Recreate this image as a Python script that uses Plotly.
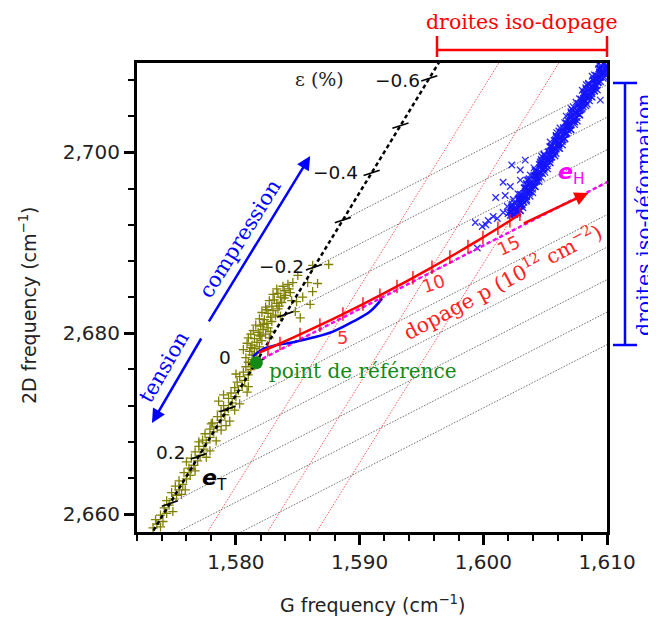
import plotly.graph_objects as go

# ---------------- data ----------------
x_tickvals = [1580, 1590, 1600, 1610]
x_ticktext = ["1,580", "1,590", "1,600", "1,610"]
y_tickvals = [2660, 2680, 2700]
y_ticktext = ["2,660", "2,680", "2,700"]
x_range = [1572.0, 1610.0]
y_range = [2658.04, 2709.87]

# reference point (unstrained, undoped)
ref_G = [1581.65]
ref_2D = [2676.85]

# strain axis e_T : ticks every 0.1 %
strain_eps = [-0.7, -0.6, -0.5, -0.4, -0.3, -0.2, -0.1, 0.0, 0.1, 0.2, 0.3, 0.4, 0.5]
strain_G = [1597.96, 1595.63, 1593.30, 1590.97, 1588.64, 1586.31, 1583.98,
            1581.65, 1579.32, 1576.99, 1574.66, 1572.33, 1570.00]
strain_2D = [2713.39, 2708.17, 2702.95, 2697.73, 2692.51, 2687.29, 2682.07,
             2676.85, 2671.63, 2666.41, 2661.19, 2655.97, 2650.75]
strain_tick_eps = [-0.6, -0.5, -0.4, -0.3, -0.2, -0.1, 0.0, 0.1, 0.2, 0.3]
iso_strain_eps = [-0.3, -0.2, -0.1, 0.0, 0.1, 0.2, 0.3, 0.4, 0.5]
strain_labels = ["\u22120.6", "\u22120.4", "\u22120.2", "0", "0.2"]
strain_label_G = [1593.04, 1588.02, 1583.65, 1579.12, 1574.67]
strain_label_2D = [2707.99, 2697.82, 2687.43, 2677.27, 2666.88]

# doping curve p (10^12 cm^-2)
doping_n = list(range(17))
doping_G = [1581.86, 1582.59, 1583.56, 1585.18, 1586.79, 1588.65, 1590.27, 1591.64, 1593.02,
            1594.31, 1595.85, 1597.30, 1598.76, 1599.97, 1601.18, 1602.15, 1602.96]
doping_2D = [2677.87, 2678.29, 2678.87, 2679.87, 2680.90, 2682.13, 2683.23, 2684.19, 2685.18,
             2686.13, 2687.30, 2688.43, 2689.60, 2690.59, 2691.61, 2692.44, 2693.15]
iso_doping_n = [5, 10, 15]
doping_labels = ["5", "10", "15"]
doping_label_G = [1588.59, 1595.95, 1602.02]
doping_label_2D = [2679.49, 2685.55, 2689.75]

# theoretical (blue) curve
theory_G = [1581.38, 1582.11, 1583.16, 1584.53, 1586.23, 1587.84, 1589.46, 1590.84, 1591.81]
theory_2D = [2677.43, 2678.21, 2678.65, 2678.98, 2679.53, 2680.19, 2681.29, 2682.40, 2683.83]

slope_doping = 0.70     # e_H direction (d2D/dG)
slope_strain_iso = 2.20  # iso-doping lines direction

# olive measurements (+)
olive_pts = [
    (1573.3, 2658.5), (1573.6, 2658.9), (1573.9, 2658.6), (1573.5, 2659.4), (1574.1, 2659.2),
    (1573.9, 2659.9), (1574.4, 2660.1), (1574.9, 2660.3), (1574.2, 2660.7), (1574.6, 2661.0),
    (1574.4, 2661.5), (1574.9, 2661.7), (1575.2, 2662.1), (1574.8, 2662.4), (1575.4, 2662.7),
    (1575.1, 2663.1), (1575.7, 2663.3), (1575.4, 2663.7), (1576.0, 2663.9), (1576.3, 2664.3),
    (1575.8, 2664.6), (1576.2, 2665.1), (1576.6, 2665.4), (1576.9, 2665.9), (1576.4, 2666.2),
    (1577.1, 2666.5), (1576.7, 2666.9), (1577.4, 2667.2), (1577.0, 2667.5), (1577.6, 2667.9),
    (1577.3, 2668.2), (1577.9, 2668.5), (1577.5, 2668.9), (1578.2, 2669.1), (1577.9, 2669.4),
    (1578.5, 2669.7), (1578.1, 2670.1), (1578.8, 2670.4), (1579.5, 2670.3), (1578.5, 2670.8),
    (1579.1, 2671.0), (1578.8, 2671.4), (1579.4, 2671.7), (1579.0, 2672.0), (1579.7, 2672.3),
    (1578.6, 2672.5), (1579.4, 2672.8), (1580.0, 2673.0), (1579.6, 2673.4), (1580.2, 2673.7),
    (1579.9, 2674.0), (1580.5, 2674.2), (1580.1, 2674.6), (1580.7, 2674.8), (1580.3, 2675.2),
    (1581.0, 2675.4), (1580.6, 2675.7), (1581.2, 2676.0), (1580.8, 2676.3), (1581.4, 2676.5),
    (1577.9, 2667.0), (1576.4, 2665.0), (1578.8, 2669.3), (1580.9, 2673.5), (1575.6, 2662.2),
    (1579.9, 2671.5), (1575.9, 2662.7), (1576.7, 2664.8), (1577.6, 2666.3), (1578.4, 2668.1),
    (1579.2, 2669.8), (1580.3, 2672.2), (1581.0, 2674.1), (1576.0, 2665.8), (1577.0, 2668.0),
    (1578.0, 2670.0), (1579.0, 2673.2), (1580.0, 2675.5),
    (1581.0, 2676.8), (1581.4, 2677.1), (1580.8, 2677.3), (1581.3, 2677.6), (1581.7, 2677.8),
    (1581.1, 2678.0), (1581.5, 2678.3), (1581.9, 2678.5), (1581.3, 2678.7), (1581.7, 2679.0),
    (1582.1, 2679.2), (1581.5, 2679.4), (1582.0, 2679.7), (1582.4, 2679.9), (1581.8, 2680.1),
    (1582.2, 2680.4), (1582.6, 2680.6), (1582.0, 2680.8), (1582.5, 2681.1), (1582.9, 2681.3),
    (1582.3, 2681.5), (1582.8, 2681.8), (1583.2, 2682.0), (1582.6, 2682.2), (1583.0, 2682.5),
    (1583.4, 2682.7), (1582.9, 2683.0), (1583.3, 2683.3), (1583.7, 2683.4), (1583.1, 2683.7),
    (1583.6, 2684.0), (1584.0, 2684.2), (1583.4, 2684.4), (1583.9, 2684.7), (1584.3, 2684.9),
    (1583.8, 2685.2), (1584.2, 2685.4), (1584.6, 2685.6), (1581.2, 2679.9), (1582.7, 2679.5),
    (1583.6, 2681.9), (1584.5, 2683.6), (1580.6, 2678.2), (1580.9, 2678.9), (1581.0, 2679.5),
    (1581.4, 2680.3), (1581.6, 2680.9), (1581.9, 2681.6), (1582.1, 2682.3), (1582.4, 2682.9),
    (1582.7, 2683.6), (1583.0, 2684.3), (1583.3, 2684.9), (1582.2, 2681.0), (1582.5, 2682.6),
    (1583.5, 2683.0), (1583.9, 2683.9), (1582.8, 2680.2), (1581.9, 2679.8), (1581.2, 2678.4),
    (1586.2, 2687.5), (1587.5, 2687.6), (1585.8, 2685.6), (1586.6, 2685.5), (1586.2, 2684.6),
    (1585.4, 2684.0), (1584.4, 2684.5), (1585.2, 2681.7), (1584.8, 2682.4), (1585.0, 2686.4),
    (1584.9, 2683.5), (1586.0, 2683.2),
]

# blue measurements (x)
blue_G = [
    1602.30, 1602.00, 1602.80, 1602.40, 1603.20, 1602.30, 1603.00, 1602.90, 1603.50, 1602.90,
    1603.50, 1602.80, 1603.85, 1603.60, 1603.30, 1604.10, 1603.70, 1604.50, 1603.60, 1604.30,
    1604.20, 1604.80, 1604.20, 1604.80, 1604.10, 1605.15, 1604.90, 1604.60, 1605.40, 1605.00,
    1605.80, 1604.90, 1605.60, 1605.50, 1606.10, 1605.50, 1606.10, 1605.40, 1606.45, 1606.20,
    1605.90, 1606.70, 1606.30, 1607.10, 1606.20, 1606.90, 1606.80, 1607.40, 1606.80, 1607.40,
    1606.70, 1607.75, 1607.50, 1607.20, 1608.00, 1607.60, 1608.40, 1607.50, 1608.20, 1608.10,
    1608.70, 1608.10, 1608.70, 1608.00, 1609.05, 1608.80, 1608.50, 1609.30, 1608.90, 1609.70,
    1608.80, 1609.50, 1609.40, 1610.00, 1609.40, 1610.00, 1609.30,
    1602.55, 1602.25, 1603.00, 1602.30, 1602.80, 1603.15, 1602.50, 1603.20, 1603.10, 1603.50,
    1603.10, 1604.00, 1603.75, 1603.45, 1604.20, 1603.50, 1604.00, 1604.35, 1603.70, 1604.40,
    1604.30, 1604.70, 1604.30, 1605.20, 1604.95, 1604.65, 1605.40, 1604.70, 1605.20, 1605.55,
    1604.90, 1605.60, 1605.50, 1605.90, 1605.50, 1606.40, 1606.15, 1605.85, 1606.60, 1605.90,
    1606.40, 1606.75, 1606.10, 1606.80, 1606.70, 1607.10, 1606.70, 1607.60, 1607.35, 1607.05,
    1607.80, 1607.10, 1607.60, 1607.95, 1607.30, 1608.00, 1607.90, 1608.30, 1607.90, 1608.80,
    1608.55, 1608.25, 1609.00, 1608.30, 1608.80, 1609.15, 1608.50, 1609.20, 1609.10, 1609.50,
    1609.10, 1610.00, 1609.75, 1609.45, 1609.90, 1609.50,
    1602.18, 1602.78, 1602.23, 1602.73, 1602.28, 1603.08, 1602.93, 1603.48, 1602.88, 1603.38,
    1603.28, 1603.73, 1603.38, 1603.98, 1603.43, 1603.93, 1603.48, 1604.28, 1604.13, 1604.68,
    1604.08, 1604.58, 1604.48, 1604.93, 1604.58, 1605.18, 1604.63, 1605.13, 1604.68, 1605.48,
    1605.33, 1605.88, 1605.28, 1605.78, 1605.68, 1606.13, 1605.78, 1606.38, 1605.83, 1606.33,
    1605.88, 1606.68, 1606.53, 1607.08, 1606.48, 1606.98, 1606.88, 1607.33, 1606.98, 1607.58,
    1607.03, 1607.53, 1607.08, 1607.88, 1607.73, 1608.28, 1607.68, 1608.18, 1608.08, 1608.53,
    1608.18, 1608.78, 1608.23, 1608.73, 1608.28, 1609.08, 1608.93, 1609.48, 1608.88, 1609.38,
    1609.28, 1609.73, 1609.38, 1609.98, 1609.43, 1609.93,
    1602.48, 1602.13, 1602.98, 1602.58, 1602.98, 1602.33, 1603.28, 1602.88, 1603.23, 1603.78,
    1602.98, 1603.63, 1603.68, 1603.33, 1604.18, 1603.78, 1604.18, 1603.53, 1604.48, 1604.08,
    1604.43, 1604.98, 1604.18, 1604.83, 1604.88, 1604.53, 1605.38, 1604.98, 1605.38, 1604.73,
    1605.68, 1605.28, 1605.63, 1606.18, 1605.38, 1606.03, 1606.08, 1605.73, 1606.58, 1606.18,
    1606.58, 1605.93, 1606.88, 1606.48, 1606.83, 1607.38, 1606.58, 1607.23, 1607.28, 1606.93,
    1607.78, 1607.38, 1607.78, 1607.13, 1608.08, 1607.68, 1608.03, 1608.58, 1607.78, 1608.43,
    1608.48, 1608.13, 1608.98, 1608.58, 1608.98, 1608.33, 1609.28, 1608.88, 1609.23, 1609.78,
    1608.98, 1609.63, 1609.68, 1609.33, 1610.10, 1609.78,
    1599.35, 1599.91, 1600.40, 1600.80, 1601.13, 1599.51, 1601.61, 1601.94, 1601.77, 1602.18,
    1602.42, 1602.99, 1602.99, 1603.39, 1603.80, 1609.22, 1609.46, 1601.00, 1601.60, 1602.30,
    1600.20,
]
blue_2D = [
    2693.00, 2693.22, 2693.44, 2693.66, 2693.88, 2694.10, 2694.32, 2694.54, 2694.76, 2694.98,
    2695.20, 2695.42, 2695.64, 2695.86, 2696.08, 2696.30, 2696.52, 2696.74, 2696.96, 2697.18,
    2697.40, 2697.62, 2697.84, 2698.06, 2698.28, 2698.50, 2698.72, 2698.94, 2699.16, 2699.38,
    2699.60, 2699.82, 2700.04, 2700.26, 2700.48, 2700.70, 2700.92, 2701.14, 2701.36, 2701.58,
    2701.80, 2702.02, 2702.24, 2702.46, 2702.68, 2702.90, 2703.12, 2703.34, 2703.56, 2703.78,
    2704.00, 2704.22, 2704.44, 2704.66, 2704.88, 2705.10, 2705.32, 2705.54, 2705.76, 2705.98,
    2706.20, 2706.42, 2706.64, 2706.86, 2707.08, 2707.30, 2707.52, 2707.74, 2707.96, 2708.18,
    2708.40, 2708.62, 2708.84, 2709.06, 2709.28, 2709.50, 2709.72,
    2693.11, 2693.33, 2693.55, 2693.77, 2693.99, 2694.21, 2694.43, 2694.65, 2694.87, 2695.09,
    2695.31, 2695.53, 2695.75, 2695.97, 2696.19, 2696.41, 2696.63, 2696.85, 2697.07, 2697.29,
    2697.51, 2697.73, 2697.95, 2698.17, 2698.39, 2698.61, 2698.83, 2699.05, 2699.27, 2699.49,
    2699.71, 2699.93, 2700.15, 2700.37, 2700.59, 2700.81, 2701.03, 2701.25, 2701.47, 2701.69,
    2701.91, 2702.13, 2702.35, 2702.57, 2702.79, 2703.01, 2703.23, 2703.45, 2703.67, 2703.89,
    2704.11, 2704.33, 2704.55, 2704.77, 2704.99, 2705.21, 2705.43, 2705.65, 2705.87, 2706.09,
    2706.31, 2706.53, 2706.75, 2706.97, 2707.19, 2707.41, 2707.63, 2707.85, 2708.07, 2708.29,
    2708.51, 2708.73, 2708.95, 2709.17, 2709.39, 2709.61,
    2693.05, 2693.27, 2693.49, 2693.71, 2693.93, 2694.15, 2694.37, 2694.59, 2694.81, 2695.03,
    2695.25, 2695.47, 2695.69, 2695.91, 2696.13, 2696.35, 2696.57, 2696.79, 2697.01, 2697.23,
    2697.45, 2697.67, 2697.89, 2698.11, 2698.33, 2698.55, 2698.77, 2698.99, 2699.21, 2699.43,
    2699.65, 2699.87, 2700.09, 2700.31, 2700.53, 2700.75, 2700.97, 2701.19, 2701.41, 2701.63,
    2701.85, 2702.07, 2702.29, 2702.51, 2702.73, 2702.95, 2703.17, 2703.39, 2703.61, 2703.83,
    2704.05, 2704.27, 2704.49, 2704.71, 2704.93, 2705.15, 2705.37, 2705.59, 2705.81, 2706.03,
    2706.25, 2706.47, 2706.69, 2706.91, 2707.13, 2707.35, 2707.57, 2707.79, 2708.01, 2708.23,
    2708.45, 2708.67, 2708.89, 2709.11, 2709.33, 2709.55,
    2693.16, 2693.38, 2693.60, 2693.82, 2694.04, 2694.26, 2694.48, 2694.70, 2694.92, 2695.14,
    2695.36, 2695.58, 2695.80, 2696.02, 2696.24, 2696.46, 2696.68, 2696.90, 2697.12, 2697.34,
    2697.56, 2697.78, 2698.00, 2698.22, 2698.44, 2698.66, 2698.88, 2699.10, 2699.32, 2699.54,
    2699.76, 2699.98, 2700.20, 2700.42, 2700.64, 2700.86, 2701.08, 2701.30, 2701.52, 2701.74,
    2701.96, 2702.18, 2702.40, 2702.62, 2702.84, 2703.06, 2703.28, 2703.50, 2703.72, 2703.94,
    2704.16, 2704.38, 2704.60, 2704.82, 2705.04, 2705.26, 2705.48, 2705.70, 2705.92, 2706.14,
    2706.36, 2706.58, 2706.80, 2707.02, 2707.24, 2707.46, 2707.68, 2707.90, 2708.12, 2708.34,
    2708.56, 2708.78, 2709.00, 2709.22, 2709.44, 2709.66,
    2692.25, 2691.81, 2692.47, 2692.91, 2692.69, 2689.42, 2693.35, 2694.01, 2695.22, 2696.22,
    2694.78, 2698.04, 2696.93, 2699.14, 2697.49, 2706.88, 2705.77, 2695.00, 2696.70, 2698.60,
    2692.00,
]

# annotation anchor points (data units)
arrow_compression = [1577.74, 2681.14, 1586.00, 2699.59]   # tail G, tail 2D, head G, head 2D
arrow_tension = [1577.26, 2679.59, 1573.21, 2670.09]
arrow_doping = [1603.15, 2692.08, 1608.49, 2695.51]

RED = "#ff0000"
BLUE = "#0000ff"
MAGENTA = "#ff00ff"
GREEN = "#138a13"
OLIVE = "#808000"
SERIF = "DejaVu Serif"
SANS = "DejaVu Sans"

fig = go.Figure()

# iso-strain grey lines (parallel to e_H)
gx, gy = [], []
for e in iso_strain_eps:
    i = strain_eps.index(e)
    g0, d0 = strain_G[i], strain_2D[i]
    gx += [g0, 1612, None]
    gy += [d0, d0 + slope_doping * (1612 - g0), None]
fig.add_trace(go.Scatter(x=gx, y=gy, mode="lines", hoverinfo="skip",
                         line=dict(color="rgba(50,50,50,0.7)", width=1, dash="1.5px,1.5px")))

# iso-doping red dotted lines (parallel to e_T)
rx, ry = [], []
for n in iso_doping_n:
    g0, d0 = doping_G[n], doping_2D[n]
    rx += [g0 + (2650 - d0) / slope_strain_iso, g0 + (2715 - d0) / slope_strain_iso, None]
    ry += [2650, 2715, None]
fig.add_trace(go.Scatter(x=rx, y=ry, mode="lines", hoverinfo="skip",
                         line=dict(color="rgba(255,30,30,0.75)", width=1, dash="1.5px,1.5px")))

# olive data
fig.add_trace(go.Scatter(x=[p[0] for p in olive_pts], y=[p[1] for p in olive_pts], mode="markers",
                         hoverinfo="skip",
                         marker=dict(symbol="cross-thin", size=6.5, line=dict(color=OLIVE, width=1.3))))

# blue data
fig.add_trace(go.Scatter(x=blue_G, y=blue_2D, mode="markers", hoverinfo="skip",
                         marker=dict(symbol="x-thin", size=6.5, line=dict(color="rgba(20,20,255,0.9)", width=1.3))))

# strain axis (black dashed)
fig.add_trace(go.Scatter(x=strain_G, y=strain_2D, mode="lines", hoverinfo="skip",
                         line=dict(color="black", width=2.5, dash="4px,3px")))

# strain ticks
tx, ty = [], []
for e in strain_tick_eps:
    i = strain_eps.index(e)
    tx += [strain_G[i] - 0.65, strain_G[i] + 0.65, None]
    ty += [strain_2D[i] - 0.3, strain_2D[i] + 0.3, None]
fig.add_trace(go.Scatter(x=tx, y=ty, mode="lines", hoverinfo="skip",
                         line=dict(color="black", width=1.6)))

# e_H direction (magenta dashed)
fig.add_trace(go.Scatter(x=[ref_G[0], 1612], y=[ref_2D[0], ref_2D[0] + slope_doping * (1612 - ref_G[0])],
                         mode="lines", hoverinfo="skip",
                         line=dict(color=MAGENTA, width=2.5, dash="4px,3px")))

# theoretical blue curve
fig.add_trace(go.Scatter(x=theory_G, y=theory_2D, mode="lines", hoverinfo="skip",
                         line=dict(color=BLUE, width=2.5, shape="spline")))

# red doping curve
fig.add_trace(go.Scatter(x=doping_G, y=doping_2D, mode="lines", hoverinfo="skip",
                         line=dict(color=RED, width=2.5, shape="spline")))
dx, dy = [], []
for n in doping_n[1:]:
    dx += [doping_G[n], doping_G[n], None]
    dy += [doping_2D[n] - 0.75, doping_2D[n] + 0.75, None]
fig.add_trace(go.Scatter(x=dx, y=dy, mode="lines", hoverinfo="skip",
                         line=dict(color=RED, width=1.3)))

# reference point
fig.add_trace(go.Scatter(x=ref_G, y=[ref_2D[0] - 0.1], mode="markers", hoverinfo="skip",
                         marker=dict(color=GREEN, size=13)))

ann = []
def text(x, y, t, size, color, family, angle=0, xref="x", yref="y"):
    ann.append(dict(x=x, y=y, xref=xref, yref=yref, text=t, showarrow=False, textangle=angle,
                    xanchor="center", yanchor="middle",
                    font=dict(size=size, color=color, family=family)))

for lab, g, d in zip(strain_labels, strain_label_G, strain_label_2D):
    text(g, d, lab, 18.5, "#111", SANS)
text(1586.72, 2708.10, "\u03b5 (%)", 19, "#222", SERIF)
for lab, g, d, a in zip(doping_labels, doping_label_G, doping_label_2D, [0, -18, -25]):
    text(g, d, lab, 18, "#ff3030", SANS, angle=a)
text(1578.23, 2663.79, "<b><i>e</i></b><sub>T</sub>", 22, "black", SANS)
text(1607.11, 2697.70, "<b><i>e</i></b><sub>H</sub>", 22, MAGENTA, SANS)
text(1590.20, 2675.83, "point de r\u00e9f\u00e9rence", 20, GREEN, SERIF)
text(1601.53, 2685.67, "dopage p (10<sup>12</sup> cm<sup>\u22122</sup>)", 20.5, "#ff2020", SERIF, angle=-28)
text(1580.33, 2690.41, "compression", 21, BLUE, SERIF, angle=-58)
text(1574.18, 2676.27, "tension", 21, BLUE, SERIF, angle=-60)

# arrows
for arr, col in [(arrow_compression, BLUE), (arrow_tension, BLUE), (arrow_doping, RED)]:
    ann.append(dict(x=arr[2], y=arr[3], ax=arr[0], ay=arr[1], xref="x", yref="y", axref="x", ayref="y",
                    text="", showarrow=True, arrowhead=2, arrowsize=1.1, arrowwidth=2.5, arrowcolor=col,
                    standoff=0, startstandoff=0))

# outside labels (paper coords)
text(0.8191, 1.0875, "droites iso-dopage", 20.5, RED, SERIF, xref="paper", yref="paper")
text(1.0790, 0.676, "droites iso-d\u00e9formation", 20.5, BLUE, SERIF, angle=-90, xref="paper", yref="paper")
text(0.502, -0.1535, "G frequency (cm<sup>\u22121</sup>)", 19, "#222", SANS, xref="paper", yref="paper")
text(-0.232, 0.484, "2D frequency (cm<sup>\u22121</sup>)", 19, "#222", SANS, angle=-90, xref="paper", yref="paper")

shapes = [
    # top red bracket
    dict(type="line", xref="paper", yref="paper", x0=0.6383, x1=1.0, y0=1.0277, y1=1.0277,
         line=dict(color=RED, width=2.5)),
    dict(type="line", xref="paper", yref="paper", x0=0.6383, x1=0.6383, y0=1.0128, y1=1.0576,
         line=dict(color=RED, width=2.5)),
    dict(type="line", xref="paper", yref="paper", x0=1.0, x1=1.0, y0=1.0128, y1=1.0576,
         line=dict(color=RED, width=2.5)),
    # right blue bracket
    dict(type="line", xref="paper", yref="paper", x0=1.0383, x1=1.0383, y0=0.3987, y1=0.9574,
         line=dict(color=BLUE, width=2.5)),
    dict(type="line", xref="paper", yref="paper", x0=1.0128, x1=1.0638, y0=0.9574, y1=0.9574,
         line=dict(color=BLUE, width=2.5)),
    dict(type="line", xref="paper", yref="paper", x0=1.0128, x1=1.0638, y0=0.3987, y1=0.3987,
         line=dict(color=BLUE, width=2.5)),
]

axis_common = dict(showgrid=False, zeroline=False, showline=True, linecolor="black", linewidth=3,
                   mirror=True, ticks="outside", ticklen=10, tickwidth=3, tickcolor="black",
                   tickfont=dict(family=SANS, size=20, color="#222"))
fig.update_layout(
    width=656, height=621, margin=dict(l=129, r=57, t=55, b=97),
    paper_bgcolor="white", plot_bgcolor="white", showlegend=False,
    xaxis=dict(range=x_range, tickvals=x_tickvals, ticktext=x_ticktext,
               minor=dict(ticks="outside", tick0=1572, dtick=2, ticklen=6, tickwidth=2.2, tickcolor="black"),
               **axis_common),
    yaxis=dict(range=y_range, tickvals=y_tickvals, ticktext=y_ticktext,
               minor=dict(ticks="outside", tick0=2660, dtick=4, ticklen=6, tickwidth=2.2, tickcolor="black"),
               **axis_common),
    annotations=ann, shapes=shapes,
)
fig.write_html("out.html")
